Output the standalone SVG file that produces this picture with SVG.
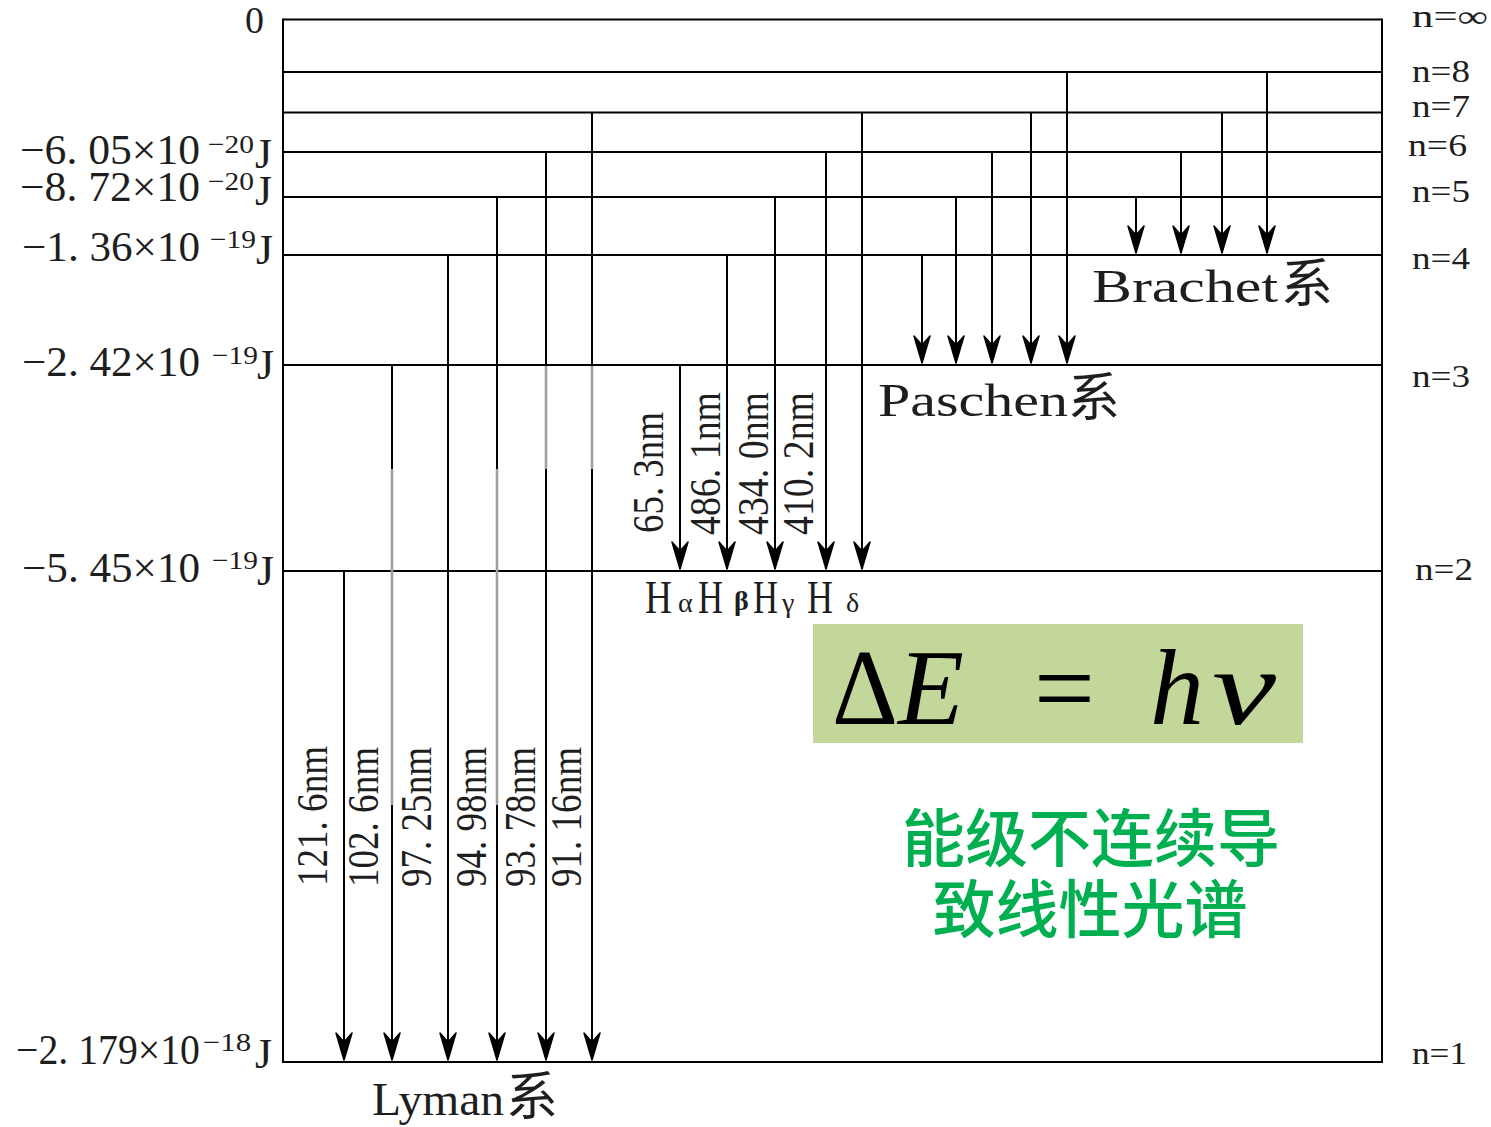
<svg xmlns="http://www.w3.org/2000/svg" width="1491" height="1127" viewBox="0 0 1491 1127">
<style>
.lv{stroke:#000;stroke-width:2;fill:none}
.ar{stroke:#000;stroke-width:2;fill:none;marker-end:url(#ah)}
.gr{stroke:#a0a0a0;stroke-width:2.6;fill:none}
.t{font-family:"Liberation Serif","Times New Roman",serif;fill:#1e1e1e}
.cj{font-family:"Noto Sans CJK SC","Noto Sans CJK JP",sans-serif;fill:#1e1e1e}
.e{font-size:42px}
.s{font-size:26px}
.n{font-size:31px}
.w{font-size:44px}
.ser{font-size:46px}
.h{font-size:46px}
.g{font-size:28px}
.f{font-family:"Liberation Serif","Times New Roman",serif;font-size:108px;fill:#000}
.zh{font-family:"Noto Sans CJK SC",sans-serif;font-size:63px;fill:#00b050;font-weight:500}
</style>
<defs>
<marker id="ah" viewBox="-29 -10 30 20" refX="0" refY="0" markerWidth="30" markerHeight="20" markerUnits="userSpaceOnUse" orient="auto">
<path d="M0,0 L-27,-8 L-18,0 L-27,8 Z" fill="#000" stroke="#000" stroke-width="1.5" stroke-linejoin="round"/>
</marker>
</defs>
<rect width="1491" height="1127" fill="#fff"/>

<g id="levels">
<line class="lv" x1="283" y1="19.5" x2="1382" y2="19.5"/>
<line class="lv" x1="283" y1="72" x2="1382" y2="72"/>
<line class="lv" x1="283" y1="112.5" x2="1382" y2="112.5"/>
<line class="lv" x1="283" y1="152" x2="1382" y2="152"/>
<line class="lv" x1="283" y1="197" x2="1382" y2="197"/>
<line class="lv" x1="283" y1="255" x2="1382" y2="255"/>
<line class="lv" x1="283" y1="365" x2="1382" y2="365"/>
<line class="lv" x1="283" y1="571" x2="1382" y2="571"/>
<line class="lv" x1="283" y1="1062" x2="1382" y2="1062"/>
<line class="lv" x1="283" y1="18.5" x2="283" y2="1063"/>
<line class="lv" x1="1382" y1="18.5" x2="1382" y2="1063"/>
</g>

<g id="connectors">
<!-- Lyman -->
<line class="ar" x1="344" y1="571" x2="344" y2="1060"/>
<line class="ar" x1="392" y1="365" x2="392" y2="1060"/>
<line class="ar" x1="448" y1="255" x2="448" y2="1060"/>
<line class="ar" x1="497" y1="197" x2="497" y2="1060"/>
<line class="ar" x1="546" y1="152" x2="546" y2="1060"/>
<line class="ar" x1="592" y1="112.5" x2="592" y2="1060"/>
<line class="gr" x1="392" y1="469" x2="392" y2="805"/>
<line class="gr" x1="497" y1="469" x2="497" y2="805"/>
<line class="gr" x1="546" y1="366" x2="546" y2="469"/>
<line class="gr" x1="592" y1="366" x2="592" y2="469"/>
<!-- Balmer -->
<line class="ar" x1="680" y1="365" x2="680" y2="569"/>
<line class="ar" x1="727" y1="255" x2="727" y2="569"/>
<line class="ar" x1="775" y1="197" x2="775" y2="569"/>
<line class="ar" x1="826" y1="152" x2="826" y2="569"/>
<line class="ar" x1="862" y1="112.5" x2="862" y2="569"/>
<!-- Paschen -->
<line class="ar" x1="922" y1="255" x2="922" y2="363"/>
<line class="ar" x1="956" y1="197" x2="956" y2="363"/>
<line class="ar" x1="992" y1="152" x2="992" y2="363"/>
<line class="ar" x1="1031" y1="112.5" x2="1031" y2="363"/>
<line class="ar" x1="1067" y1="72" x2="1067" y2="363"/>
<!-- Brachet -->
<line class="ar" x1="1136" y1="197" x2="1136" y2="253"/>
<line class="ar" x1="1181" y1="152" x2="1181" y2="253"/>
<line class="ar" x1="1222" y1="112.5" x2="1222" y2="253"/>
<line class="ar" x1="1267" y1="72" x2="1267" y2="253"/>
</g>

<g id="energy-labels">
<text class="t" x="245" y="33" font-size="38">0</text>
<text class="t e" x="20" y="164" textLength="180" lengthAdjust="spacingAndGlyphs">−6. 05×10</text>
<text class="t s" x="208" y="153" textLength="46" lengthAdjust="spacingAndGlyphs">−20</text>
<text class="t e" x="255" y="168" textLength="17" lengthAdjust="spacingAndGlyphs">J</text>
<text class="t e" x="20" y="201" textLength="180" lengthAdjust="spacingAndGlyphs">−8. 72×10</text>
<text class="t s" x="208" y="190" textLength="46" lengthAdjust="spacingAndGlyphs">−20</text>
<text class="t e" x="255" y="205" textLength="17" lengthAdjust="spacingAndGlyphs">J</text>
<text class="t e" x="22" y="261" textLength="178" lengthAdjust="spacingAndGlyphs">−1. 36×10</text>
<text class="t s" x="210" y="248" textLength="46" lengthAdjust="spacingAndGlyphs">−19</text>
<text class="t e" x="256" y="264" textLength="17" lengthAdjust="spacingAndGlyphs">J</text>
<text class="t e" x="22" y="376" textLength="178" lengthAdjust="spacingAndGlyphs">−2. 42×10</text>
<text class="t s" x="212" y="364" textLength="46" lengthAdjust="spacingAndGlyphs">−19</text>
<text class="t e" x="257" y="379" textLength="17" lengthAdjust="spacingAndGlyphs">J</text>
<text class="t e" x="22" y="582" textLength="178" lengthAdjust="spacingAndGlyphs">−5. 45×10</text>
<text class="t s" x="212" y="569" textLength="46" lengthAdjust="spacingAndGlyphs">−19</text>
<text class="t e" x="257" y="585" textLength="17" lengthAdjust="spacingAndGlyphs">J</text>
<text class="t e" x="16" y="1064" textLength="184" lengthAdjust="spacingAndGlyphs">−2. 179×10</text>
<text class="t s" x="203" y="1051" textLength="48" lengthAdjust="spacingAndGlyphs">−18</text>
<text class="t e" x="255" y="1068" textLength="17" lengthAdjust="spacingAndGlyphs">J</text>
</g>

<g id="n-labels">
<text class="t n" x="1412" y="27" textLength="76" lengthAdjust="spacingAndGlyphs">n=∞</text>
<text class="t n" x="1412" y="82" textLength="58" lengthAdjust="spacingAndGlyphs">n=8</text>
<text class="t n" x="1412" y="117" textLength="58" lengthAdjust="spacingAndGlyphs">n=7</text>
<text class="t n" x="1408" y="156" textLength="59" lengthAdjust="spacingAndGlyphs">n=6</text>
<text class="t n" x="1412" y="202" textLength="58" lengthAdjust="spacingAndGlyphs">n=5</text>
<text class="t n" x="1412" y="269" textLength="58" lengthAdjust="spacingAndGlyphs">n=4</text>
<text class="t n" x="1412" y="387" textLength="58" lengthAdjust="spacingAndGlyphs">n=3</text>
<text class="t n" x="1415" y="580" textLength="58" lengthAdjust="spacingAndGlyphs">n=2</text>
<text class="t n" x="1412" y="1064" textLength="55" lengthAdjust="spacingAndGlyphs">n=1</text>
</g>

<g id="wavelengths">
<text class="t w" transform="translate(327,886) rotate(-90)" textLength="140" lengthAdjust="spacingAndGlyphs">121. 6nm</text>
<text class="t w" transform="translate(378,887) rotate(-90)" textLength="140" lengthAdjust="spacingAndGlyphs">102. 6nm</text>
<text class="t w" transform="translate(431,887) rotate(-90)" textLength="140" lengthAdjust="spacingAndGlyphs">97. 25nm</text>
<text class="t w" transform="translate(486,887) rotate(-90)" textLength="140" lengthAdjust="spacingAndGlyphs">94. 98nm</text>
<text class="t w" transform="translate(535,887) rotate(-90)" textLength="140" lengthAdjust="spacingAndGlyphs">93. 78nm</text>
<text class="t w" transform="translate(581,887) rotate(-90)" textLength="140" lengthAdjust="spacingAndGlyphs">91. 16nm</text>
<text class="t w" transform="translate(663,533) rotate(-90)" textLength="121" lengthAdjust="spacingAndGlyphs">65. 3nm</text>
<text class="t w" transform="translate(720,535) rotate(-90)" textLength="143" lengthAdjust="spacingAndGlyphs">486. 1nm</text>
<text class="t w" transform="translate(768,535) rotate(-90)" textLength="143" lengthAdjust="spacingAndGlyphs">434. 0nm</text>
<text class="t w" transform="translate(813,535) rotate(-90)" textLength="143" lengthAdjust="spacingAndGlyphs">410. 2nm</text>
</g>

<g id="balmer-names">
<text class="t h" x="645" y="613" textLength="27" lengthAdjust="spacingAndGlyphs">H</text>
<text class="t g" x="678" y="612">α</text>
<text class="t h" x="698" y="613" textLength="25" lengthAdjust="spacingAndGlyphs">H</text>
<text class="t g" x="734" y="610" font-weight="bold">β</text>
<text class="t h" x="753" y="613" textLength="25" lengthAdjust="spacingAndGlyphs">H</text>
<text class="t g" x="782" y="612">γ</text>
<text class="t h" x="807" y="613" textLength="26" lengthAdjust="spacingAndGlyphs">H</text>
<text class="t g" x="846" y="612">δ</text>
</g>

<g id="series-names">
<text class="t ser" x="1092" y="302" textLength="186" lengthAdjust="spacingAndGlyphs">Brachet</text>
<text class="cj" x="1281" y="302" font-size="52">系</text>
<text class="t ser" x="878" y="416" textLength="190" lengthAdjust="spacingAndGlyphs">Paschen</text>
<text class="cj" x="1068" y="416" font-size="52">系</text>
<text class="t ser" x="372" y="1115" textLength="132" lengthAdjust="spacingAndGlyphs">Lyman</text>
<text class="cj" x="506" y="1115" font-size="52">系</text>
</g>

<g id="formula">
<rect x="813" y="624" width="490" height="119" fill="#c4d79b"/>
<text class="f" x="832" y="724" textLength="66" lengthAdjust="spacingAndGlyphs">Δ</text>
<text class="f" x="898" y="724" font-style="italic">E</text>
<text class="f" x="1034" y="724">=</text>
<text class="f" x="1150" y="724" font-style="italic">h</text>
<text class="f" x="1212" y="724" font-style="italic" textLength="64" lengthAdjust="spacingAndGlyphs">v</text>
</g>

<g id="caption">
<text class="zh" x="1091" y="861" text-anchor="middle">能级不连续导</text>
<text class="zh" x="1090" y="932" text-anchor="middle">致线性光谱</text>
</g>
</svg>
